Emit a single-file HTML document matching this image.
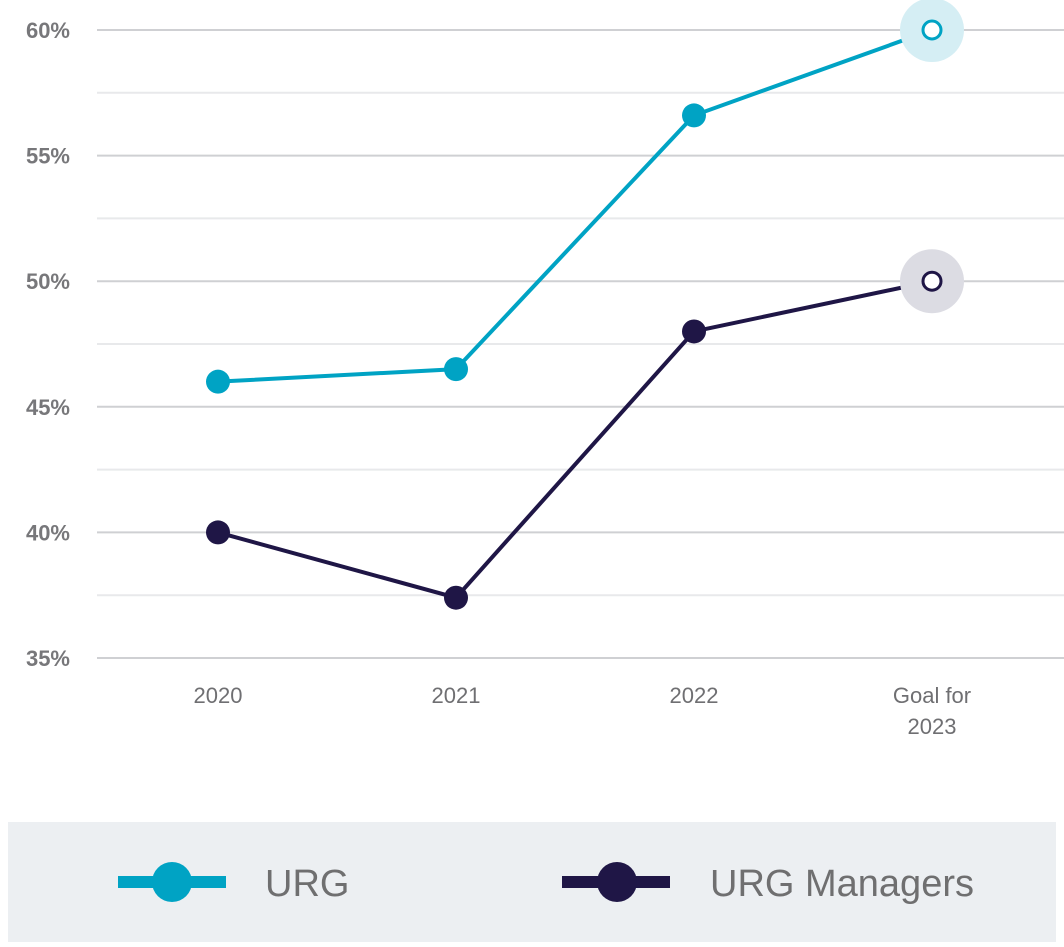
<!DOCTYPE html>
<html><head><meta charset="utf-8"><style>
body{margin:0;background:#fff;width:1064px;height:942px;overflow:hidden;font-family:"Liberation Sans",sans-serif}
</style></head><body>
<svg width="1064" height="942" xmlns="http://www.w3.org/2000/svg">
<g id="grid"></g>
<g id="yt"></g>
<g id="xt"></g>
<g id="series"></g>
<g>
<rect x="8" y="822" width="1048" height="120" fill="#eceff2"/>
<g>
<line x1="118" y1="882" x2="226" y2="882" stroke="#00a3c4" stroke-width="12"/>
<circle cx="172" cy="882" r="20" fill="#00a3c4"/>
<text x="265" y="896" font-size="38" fill="#6f6f70">URG</text></g>
<g>
<line x1="562" y1="882" x2="670" y2="882" stroke="#1f1646" stroke-width="12"/>
<circle cx="617" cy="882" r="20" fill="#1f1646"/>
<text x="710" y="896" font-size="38" fill="#6f6f70">URG Managers</text></g>
</g>
</svg>
<script>
const categories=["2020","2021","2022","Goal for 2023"];
const urgValues=[46.0,46.5,56.6,60];
const managerValues=[40,37.4,48.0,50];
const yTicks=[35,40,45,50,55,60];
const NS="http://www.w3.org/2000/svg";
const y=v=>30+(60-v)*25.12;
const x=i=>218+i*238;
function mk(t,a,p){const e=document.createElementNS(NS,t);for(const k in a)e.setAttribute(k,a[k]);p.appendChild(e);return e;}
const grid=document.getElementById('grid'),yt=document.getElementById('yt'),xt=document.getElementById('xt'),ser=document.getElementById('series');
for(let v=35;v<=60;v+=2.5){const major=v%5===0;
const l=mk('line',{x1:97,x2:1064,y1:y(v),y2:y(v),stroke:major?'#cfd0d3':'#e8e9eb','stroke-width':2},grid);

}
yTicks.forEach(v=>{const t=mk('text',{x:70,y:y(v)+8,'text-anchor':'end','font-size':22,'font-weight':'bold',fill:'#77777a'},yt);t.textContent=v+'%';

});
categories.forEach((c,i)=>{const t=mk('text',{x:x(i),y:703,'text-anchor':'middle','font-size':22,fill:'#6f6f72'},xt);


if(c.startsWith('Goal')){mk('tspan',{x:x(i),dy:0},t).textContent='Goal for';mk('tspan',{x:x(i),dy:31},t).textContent='2023';}else t.textContent=c;});
function draw(vals,color,halo,name){
const g=mk('g',{},ser);


mk('polyline',{points:vals.map((v,i)=>x(i)+','+y(v)).join(' '),fill:'none',stroke:color,'stroke-width':4},g);
vals.forEach((v,i)=>{const last=i===vals.length-1;
if(last)mk('circle',{cx:x(i),cy:y(v),r:32,fill:halo},g);
const c=mk('circle',{cx:x(i),cy:y(v),r:last?9:12,fill:last?'#fff':color,stroke:color,'stroke-width':last?3:0},g);

});}
draw(urgValues,'#00a3c4','#d5eef4','urg-series');
draw(managerValues,'#1f1646','#dcdce3','urg-managers-series');
</script>
</body></html>
